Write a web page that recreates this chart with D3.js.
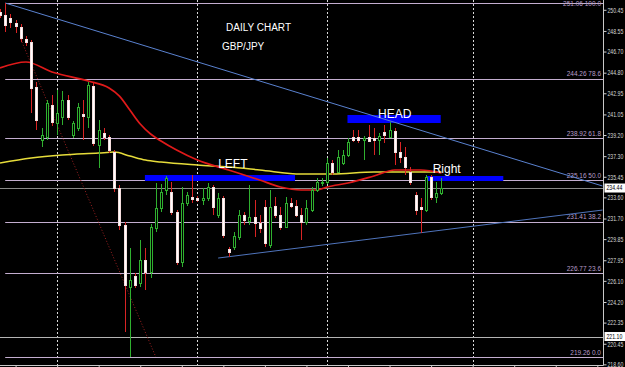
<!DOCTYPE html>
<html>
<head>
<meta charset="utf-8">
<script src="https://cdn.jsdelivr.net/npm/d3@7"></script>
<style>
body { margin: 0; background: #000; }
svg { display: block; font-family: "Liberation Sans", Arial, sans-serif; }
</style>
</head>
<body>
<svg id="chart" width="625" height="367"></svg>
<script>
// daily GBP/JPY bars (bar index = position from the left)
var openP = [250.25,249.98,249.71,249.26,248.90,247.83,247.56,243.51,238.75,239.02,
	241.90,240.28,240.82,242.35,239.20,239.83,241.09,240.82,243.60,238.30,
	239.38,239.02,237.67,234.44,231.11,225.54,226.53,225.90,227.97,226.89,
	230.84,232.64,234.26,234.08,232.28,227.79,233.09,233.63,233.54,233.36,
	233.54,234.53,232.01,233.54,228.96,229.14,230.03,232.01,231.47,231.83,
	231.29,232.73,229.32,232.82,232.01,230.93,233.09,232.82,232.01,231.38,
	232.46,234.26,234.89,234.98,236.68,235.88,236.68,237.40,239.02,239.02,
	238.75,239.02,238.93,238.75,239.47,239.02,239.56,237.67,237.22,235.88,
	233.81,232.73,232.46,235.43,233.63,233.99];
var highP = [250.52,251.06,250.07,249.53,249.17,248.10,247.74,243.96,239.83,242.35,
	242.79,243.24,243.15,242.79,240.46,242.08,242.35,243.96,243.87,240.55,
	239.83,239.20,237.85,234.71,231.38,229.05,226.80,229.77,229.05,231.20,
	234.89,234.80,235.52,234.98,232.46,234.53,234.08,235.61,233.72,234.44,
	234.89,234.71,233.99,233.72,229.14,230.48,232.46,232.28,234.71,233.36,
	232.01,233.36,234.26,233.63,232.73,233.63,233.54,233.36,232.64,233.36,
	234.53,235.34,235.34,237.13,236.95,237.85,237.85,238.93,239.65,239.65,
	239.11,240.10,239.83,239.38,240.10,240.37,239.83,238.57,238.12,236.32,
	234.08,233.54,235.61,235.61,234.98,235.34];
var lowP = [249.71,248.46,248.81,248.37,247.56,247.20,241.18,239.65,238.12,238.75,
	240.01,239.20,240.10,240.55,238.93,239.56,238.75,239.83,238.21,236.24,
	238.75,237.58,234.08,230.66,221.50,219.26,225.45,225.54,225.27,226.36,
	230.48,232.28,233.81,232.01,227.52,227.34,232.82,233.09,233.18,232.91,
	233.27,232.01,231.74,229.94,228.24,228.87,229.77,231.11,231.11,230.03,
	230.39,229.14,229.05,231.74,230.66,230.84,232.64,231.83,229.77,231.11,
	232.28,234.08,234.62,234.80,235.61,235.79,236.50,237.22,238.57,238.48,
	236.95,238.57,237.40,237.40,238.48,238.93,236.50,236.68,235.61,234.71,
	232.01,230.39,232.28,233.36,233.09,233.81];
var closeP = [249.98,249.08,249.35,248.99,247.92,247.56,243.42,240.55,239.20,242.08,
	240.37,241.18,242.35,240.82,240.28,241.72,240.91,243.69,238.48,239.65,
	239.02,237.85,234.44,231.11,225.72,226.17,225.72,227.97,226.89,230.93,
	232.64,234.08,235.34,232.28,227.79,233.09,233.81,233.45,233.36,233.54,
	234.53,232.73,233.54,230.21,228.69,230.12,232.01,231.56,231.83,231.29,
	230.84,229.50,232.73,232.01,230.93,233.09,232.82,232.01,231.38,232.64,
	234.26,234.98,234.98,236.68,235.88,237.22,237.40,238.57,238.75,238.75,
	238.93,238.66,238.75,239.11,239.20,239.65,237.67,237.22,236.32,234.98,
	232.46,232.55,235.43,233.63,233.99,234.44];

// moving averages as read at some bars: [bar, price]
var maRed = [[0,245.22],[5,245.76],[10,244.86],[17,244.05],[21,243.42],[23,242.70],[25,241.45],
	[27,240.19],[29,239.29],[31,238.66],[34,237.85],[38,236.95],[44,236.06],[50,235.16],
	[54,234.53],[58,234.26],[61,234.26],[63,234.53],[67,234.89],[72,235.52],[76,236.06],
	[81,236.06],[85,235.79]];
var maYellow = [[0,236.68],[6,237.13],[12,237.40],[19,237.58],[22,237.67],[25,237.31],[28,236.95],
	[31,236.77],[38,236.50],[44,236.32],[50,236.06],[58,235.70],[64,235.70],[72,235.88],[85,235.88]];

// fibonacci retracement from the 251.06 high to the 219.26 low
var fibPrices = [251.06, 244.26, 238.92, 235.16, 231.41, 226.77, 219.26];
var fibLevels = ['100.0', '78.6', '61.8', '50.0', '38.2', '23.6', '0.0'];

// price axis
var priceTicks = [250.45,248.55,246.70,244.80,242.95,241.05,239.20,237.30,235.45,233.60,
	231.70,229.85,227.95,226.10,224.20,222.35,220.45,218.60];
var markedPrices = [234.44, 221.10];
var timeTicks = [3,11,19,27,35,43,51,59,67,75,83,91,99,107,115];
var periodStarts = [11, 38, 63, 91];

// drawn objects: trend lines [bar, price] pairs
var trendTop = [[1, 251.06], [116, 234.62]];
var trendBottom = [[42, 228.15], [116, 232.46]];
var trendFall = [[4, 247.80], [30, 219.26]];

// head and shoulders zones
var zoneNames = ['LEFT', 'HEAD', 'Right'];
var zoneFrom = [27.9, 66.9, 82.15];
var zoneTo = [56.8, 84.85, 96.9];
var zoneTop = [235.61, 241.00, 235.52];
var zoneBottom = [235.07, 240.28, 235.07];
var labelBar = [42, 72.8, 83.3];
var labelPrice = [236.24, 240.73, 235.79];

var svg = d3.select('#chart'),
	width = +svg.attr('width'),
	height = +svg.attr('height'),
	plotRight = 603.5,
	plotBottom = 365.5,
	squeeze = 0.74; // axis font is much narrower than Liberation Sans

svg.append('rect').attr('width', width).attr('height', height).attr('fill', '#000');

var x = d3.scaleLinear().domain([0, 116]).range([0, 602.5]);
var y = d3.scaleLinear().domain([219.26, 251.06]).range([357, 3]);

svg.append('defs').append('clipPath')
	.attr('id', 'plot-clip')
	.append('rect')
	.attr('width', plotRight)
	.attr('height', plotBottom);

var g = svg.append('g').attr('clip-path', 'url(#plot-clip)');

function cx(i) { return Math.round(x(i)) + 0.5; }
function cy(v) { return Math.round(y(v)) + 0.5; }

// period separators
g.selectAll('.sep').data(periodStarts).join('line')
	.attr('x1', cx).attr('x2', cx)
	.attr('y1', 0).attr('y2', plotBottom)
	.attr('stroke', '#d8d8d8')
	.attr('stroke-dasharray', '2,2');

// fib levels
g.selectAll('.fib').data(fibPrices).join('line')
	.attr('x1', x(1)).attr('x2', plotRight)
	.attr('y1', cy).attr('y2', cy)
	.attr('stroke', '#c4aed0');

g.selectAll('.fib-lbl').data(fibPrices).join('text')
	.attr('x', 601)
	.attr('y', function (d, i) { return i == 0 ? 5.5 : y(d) - 2.5; })
	.attr('text-anchor', 'end')
	.attr('font-size', 6.5)
	.attr('fill', '#b89ec8')
	.text(function (d, i) { return d.toFixed(2) + ' ' + fibLevels[i]; });

// bid / marked price lines
g.selectAll('.mark').data(markedPrices).join('line')
	.attr('x1', 0).attr('x2', plotRight)
	.attr('y1', cy).attr('y2', cy)
	.attr('stroke', function (d, i) { return i == 0 ? '#8a8a8a' : '#b4b4b4'; });

// zones
g.selectAll('.zone').data(zoneNames).join('rect')
	.attr('x', function (d, i) { return x(zoneFrom[i]); })
	.attr('y', function (d, i) { return y(zoneTop[i]); })
	.attr('width', function (d, i) { return x(zoneTo[i]) - x(zoneFrom[i]); })
	.attr('height', function (d, i) { return y(zoneBottom[i]) - y(zoneTop[i]); })
	.attr('fill', '#0000ff');

// trend lines
var seg = d3.line().x(function (d) { return x(d[0]); }).y(function (d) { return y(d[1]); });
g.append('path').datum(trendTop).attr('d', seg).attr('fill', 'none').attr('stroke', '#5a82d0');
g.append('path').datum(trendBottom).attr('d', seg).attr('fill', 'none').attr('stroke', '#4f74bc');
g.append('path').datum(trendFall).attr('d', seg).attr('fill', 'none')
	.attr('stroke', '#a02222').attr('stroke-dasharray', '1,2');

// moving averages
var ma = d3.line().curve(d3.curveMonotoneX)
	.x(function (d) { return x(d[0]); }).y(function (d) { return y(d[1]); });
g.append('path').datum(maYellow).attr('d', ma).attr('fill', 'none')
	.attr('stroke', '#e6dc3a').attr('stroke-width', 1.5);
g.append('path').datum(maRed).attr('d', ma).attr('fill', 'none')
	.attr('stroke', '#e01a1a').attr('stroke-width', 1.7);

// candles
var bars = d3.range(openP.length);
var upCol = '#2fb02f', downCol = '#d82424';

g.selectAll('.wick').data(bars).join('line')
	.attr('x1', cx).attr('x2', cx)
	.attr('y1', function (i) { return Math.round(y(highP[i])); })
	.attr('y2', function (i) { return Math.round(y(lowP[i])); })
	.attr('stroke', function (i) { return closeP[i] >= openP[i] ? upCol : downCol; });

g.selectAll('.body').data(bars).join('rect')
	.attr('x', function (i) { return Math.round(x(i)) - 0.5; })
	.attr('y', function (i) { return cy(Math.max(openP[i], closeP[i])); })
	.attr('width', 2)
	.attr('height', function (i) {
		return Math.max(1, Math.round(y(Math.min(openP[i], closeP[i]))) - Math.round(y(Math.max(openP[i], closeP[i]))));
	})
	.attr('fill', function (i) { return closeP[i] >= openP[i] ? '#000' : '#ffffff'; })
	.attr('stroke', function (i) { return closeP[i] >= openP[i] ? upCol : '#f6dede'; });

// zone labels
g.selectAll('.zone-lbl').data(zoneNames).join('text')
	.attr('x', function (d, i) { return x(labelBar[i]); })
	.attr('y', function (d, i) { return y(labelPrice[i]); })
	.attr('font-size', 12)
	.attr('fill', '#ffffff')
	.text(function (d) { return d; });

// titles
svg.append('text').attr('x', 226).attr('y', 31).attr('font-size', 10)
	.attr('fill', '#ffffff').text('DAILY CHART');
svg.append('text').attr('x', 222).attr('y', 50).attr('font-size', 10)
	.attr('fill', '#ffffff').text('GBP/JPY');

// price axis
var yAxis = svg.append('g')
	.attr('transform', 'translate(' + plotRight + ',0)')
	.call(d3.axisRight(y).tickValues(priceTicks).tickSize(3).tickSizeOuter(0).tickPadding(1)
		.tickFormat(d3.format('.2f')));
yAxis.select('.domain').remove();
yAxis.selectAll('line').attr('stroke', '#d0d0d0');
yAxis.selectAll('text').attr('fill', '#d8d8d8').attr('font-size', 7)
	.attr('font-family', '"Liberation Sans", Arial, sans-serif')
	.attr('x', 4 / squeeze)
	.attr('transform', 'scale(' + squeeze + ',1)');

svg.append('line')
	.attr('x1', plotRight).attr('x2', plotRight)
	.attr('y1', 0).attr('y2', plotBottom)
	.attr('stroke', '#c8c8c8');

// marked price boxes on the axis
var marks = svg.selectAll('.mark-box').data(markedPrices).join('g')
	.attr('transform', function (d) { return 'translate(' + (plotRight + 1) + ',' + y(d) + ')'; });
marks.append('rect').attr('x', 0).attr('y', -4.5).attr('width', 21).attr('height', 9).attr('fill', '#ffffff');
marks.append('text').attr('x', 2 / squeeze).attr('dy', '0.34em').attr('font-size', 7).attr('fill', '#000')
	.attr('transform', 'scale(' + squeeze + ',1)')
	.text(function (d) { return d.toFixed(2); });

// time axis (labels fall below the picture)
var xAxis = svg.append('g')
	.attr('transform', 'translate(0,' + plotBottom + ')')
	.call(d3.axisBottom(x).tickValues(timeTicks).tickSize(3).tickSizeOuter(0).tickFormat(''));
xAxis.select('.domain').remove();
xAxis.selectAll('line').attr('stroke', '#d0d0d0');
svg.append('line')
	.attr('x1', 0).attr('x2', plotRight)
	.attr('y1', plotBottom).attr('y2', plotBottom)
	.attr('stroke', '#c8c8c8');
</script>
</body>
</html>
